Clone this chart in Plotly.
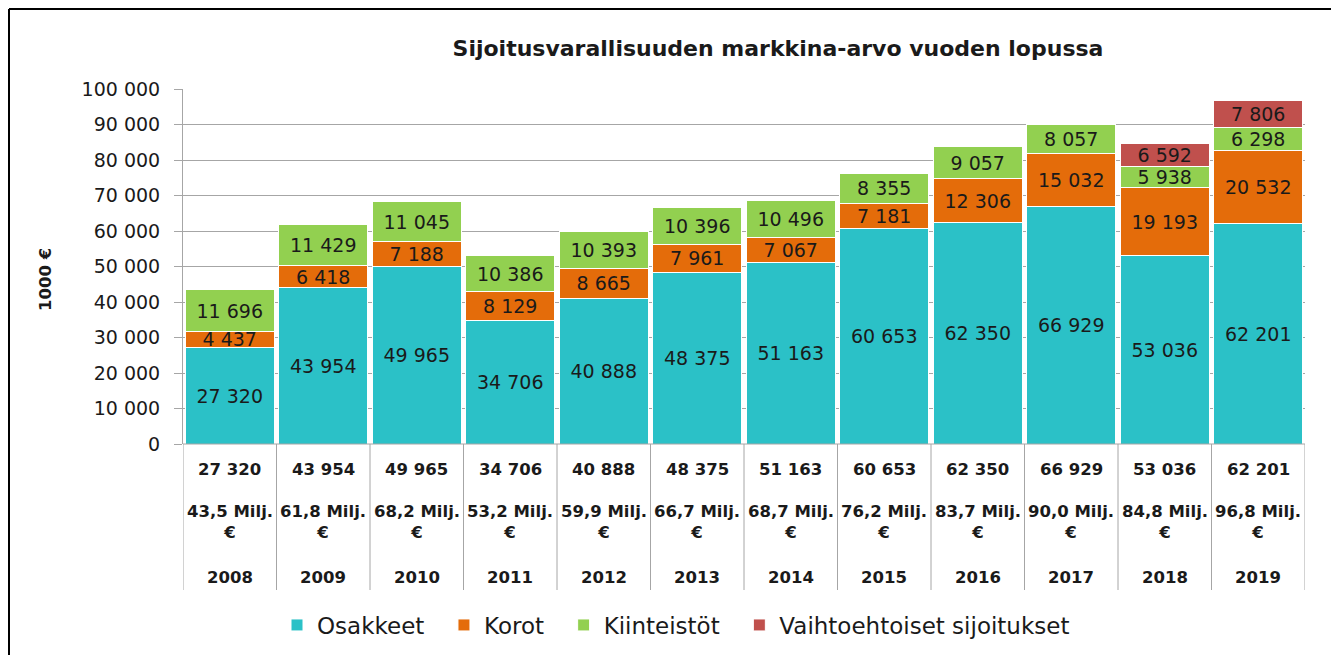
import plotly.graph_objects as go

years = ["2008", "2009", "2010", "2011", "2012", "2013", "2014", "2015", "2016", "2017", "2018", "2019"]
osakkeet = [27320, 43954, 49965, 34706, 40888, 48375, 51163, 60653, 62350, 66929, 53036, 62201]
korot = [4437, 6418, 7188, 8129, 8665, 7961, 7067, 7181, 12306, 15032, 19193, 20532]
kiinteistot = [11696, 11429, 11045, 10386, 10393, 10396, 10496, 8355, 9057, 8057, 5938, 6298]
vaihtoehtoiset = [None, None, None, None, None, None, None, None, None, None, 6592, 7806]
totals_label = ["43,5", "61,8", "68,2", "53,2", "59,9", "66,7", "68,7", "76,2", "83,7", "90,0", "84,8", "96,8"]
series_names = ["Osakkeet", "Korot", "Kiinteistöt", "Vaihtoehtoiset sijoitukset"]
series_colors = ["#2BC1C7", "#E46C0A", "#92D050", "#C0504D"]
series_values = [osakkeet, korot, kiinteistot, vaihtoehtoiset]

def fmt(v):
    return "" if v is None else f"{v:,}".replace(",", " ")

FONT = "'DejaVu Sans', sans-serif"
TXT = "#1a1a1a"
OFF = 8  # page body margin offset
W, H = 1339, 655
PL, PR, PT, PB = 183, 1305, 89, 444  # plot area in page pixels
x = list(range(len(years)))
PAD = "\u00a0" * 2

fig = go.Figure()
for j, (name, vals, col) in enumerate(zip(series_names, series_values, series_colors)):
    fig.add_trace(go.Bar(
        x=x, y=vals, name=name + (PAD if j < len(series_names) - 1 else ""),
        marker=dict(color=col, line=dict(color="white", width=1)),
        text=[fmt(v) for v in vals], textposition="inside",
        insidetextanchor="middle", textangle=0,
        textfont=dict(family=FONT, size=19, color=TXT),
        width=0.95,
    ))

def py(pixel):
    return (PB - pixel) / float(PB - PT)

def px(pixel):
    return (pixel - PL) / float(PR - PL)

ann = []
tf = dict(family=FONT, size=16.5, color=TXT)
for i, yr in enumerate(years):
    ann.append(dict(x=i, y=py(470), xref="x", yref="paper", text=f"<b>{fmt(osakkeet[i])}</b>",
                    showarrow=False, xanchor="center", yanchor="middle", font=tf))
    ann.append(dict(x=i, y=py(522), xref="x", yref="paper", text=f"<b>{totals_label[i]} Milj.<br>€</b>",
                    showarrow=False, xanchor="center", yanchor="middle", font=tf))
    ann.append(dict(x=i, y=py(577), xref="x", yref="paper", text=f"<b>{yr}</b>",
                    showarrow=False, xanchor="center", yanchor="middle", font=tf))

ann.append(dict(x=px(45), y=py(280), xref="paper", yref="paper", text="<b>1000 €</b>",
                textangle=-90, showarrow=False, xanchor="center", yanchor="middle",
                font=dict(family=FONT, size=16.5, color=TXT)))

shapes = []
for k in range(len(years) + 1):
    shapes.append(dict(type="line", xref="x", yref="paper", x0=k - 0.5, x1=k - 0.5,
                       y0=0, y1=py(590), line=dict(color="#A6A6A6", width=1)))
shapes.append(dict(type="line", xref="paper", yref="paper", x0=0, x1=1, y0=0, y1=0,
                   line=dict(color="#A6A6A6", width=1)))
# outer chart border
for (a, b, c, d) in [(9, 9, 1332, 9), (9, 9, 9, 670), (1332, 9, 1332, 670)]:
    shapes.append(dict(type="line", xref="paper", yref="paper",
                       x0=px(a), x1=px(c), y0=py(b), y1=py(d),
                       line=dict(color="black", width=2)))

fig.update_layout(
    width=W, height=H,
    barmode="stack", bargap=0.05,
    separators=", ",
    paper_bgcolor="white", plot_bgcolor="white",
    margin=dict(l=PL - OFF, r=W - (PR - OFF), t=PT - OFF, b=H - (PB - OFF)),
    title=dict(text="<b>Sijoitusvarallisuuden markkina-arvo vuoden lopussa</b>",
               x=(778 - OFF) / W, xanchor="center", y=1 - (48 - OFF) / H, yanchor="middle",
               font=dict(family=FONT, size=22, color=TXT)),
    xaxis=dict(range=[-0.5, len(years) - 0.5], showticklabels=False, ticks="",
               showgrid=False, zeroline=False, showline=False),
    yaxis=dict(range=[0, 100000], dtick=10000, tickformat=",d", showgrid=True,
               gridcolor="#A6A6A6", gridwidth=1, zeroline=False,
               showline=True, linecolor="#A6A6A6", ticks="outside", ticklen=8,
               ticklabelstandoff=10,
               tickcolor="#A6A6A6", tickfont=dict(family=FONT, size=19, color=TXT)),
    legend=dict(orientation="h", x=px(676), xanchor="center", y=py(625), yanchor="middle",
                font=dict(family=FONT, size=23, color=TXT), itemwidth=30,
                traceorder="normal"),
    uniformtext=dict(minsize=19, mode="show"),
    annotations=ann, shapes=shapes,
    font=dict(family=FONT),
)

fig.write_html("out.html")
